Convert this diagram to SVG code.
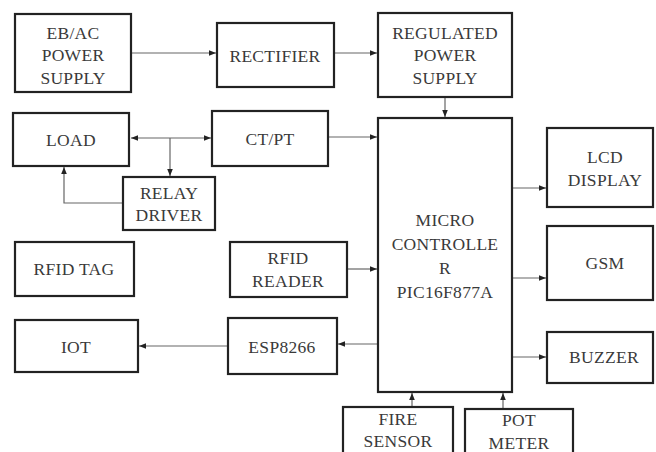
<svg xmlns="http://www.w3.org/2000/svg" width="656" height="452" viewBox="0 0 656 452">
<style>
.b{fill:#fff;stroke:#222;stroke-width:2.2}
.t{font-family:'Liberation Serif','Times New Roman',serif;font-size:17.5px;letter-spacing:0.3px;fill:#3a3a3a;text-anchor:middle}
.c{fill:none;stroke:#666;stroke-width:1.2}
</style>
<defs>
<marker id="a" viewBox="0 0 10 10" refX="10" refY="5" markerWidth="7" markerHeight="7" markerUnits="userSpaceOnUse" orient="auto-start-reverse"><path d="M0,1 L10,5 L0,9 z" fill="#222"/></marker>
</defs>
<rect width="656" height="452" fill="#fff"/>
<g id="connectors">
<line class="c" x1="131" y1="53" x2="216" y2="53" marker-end="url(#a)"/>
<line class="c" x1="335" y1="53" x2="377" y2="53" marker-end="url(#a)"/>
<line class="c" x1="445" y1="97" x2="445" y2="117" marker-end="url(#a)"/>
<line class="c" x1="131" y1="138" x2="211" y2="138" marker-start="url(#a)" marker-end="url(#a)"/>
<line class="c" x1="170" y1="138" x2="170" y2="176" marker-end="url(#a)"/>
<polyline class="c" points="123,203 64,203 64,167" marker-end="url(#a)"/>
<line class="c" x1="328" y1="137" x2="377" y2="137" marker-end="url(#a)"/>
<line class="c" x1="512" y1="188" x2="546" y2="188" marker-end="url(#a)"/>
<line class="c" x1="512" y1="278" x2="546" y2="278" marker-end="url(#a)"/>
<line class="c" x1="512" y1="357" x2="546" y2="357" marker-end="url(#a)"/>
<line class="c" x1="347" y1="269" x2="377" y2="269" marker-end="url(#a)"/>
<line class="c" x1="378" y1="344" x2="338" y2="344" marker-end="url(#a)"/>
<line class="c" x1="228" y1="346" x2="139" y2="346" marker-end="url(#a)"/>
<line class="c" x1="412" y1="407" x2="412" y2="393" marker-end="url(#a)"/>
<line class="c" x1="503" y1="409" x2="503" y2="393" marker-end="url(#a)"/>
</g>
<g id="ebac"><rect class="b" x="15" y="14" width="116" height="78"/><text class="t" x="73" y="39">EB/AC</text><text class="t" x="73" y="61">POWER</text><text class="t" x="73" y="84">SUPPLY</text></g>
<g id="rectifier"><rect class="b" x="217" y="23" width="117" height="64"/><text class="t" x="275" y="62">RECTIFIER</text></g>
<g id="regulated"><rect class="b" x="378" y="13" width="134" height="84"/><text class="t" x="445" y="39">REGULATED</text><text class="t" x="445" y="61">POWER</text><text class="t" x="445" y="84">SUPPLY</text></g>
<g id="load"><rect class="b" x="13" y="113" width="116" height="53"/><text class="t" x="71" y="146">LOAD</text></g>
<g id="ctpt"><rect class="b" x="212" y="111" width="116" height="55"/><text class="t" x="270" y="145">CT/PT</text></g>
<g id="relay"><rect class="b" x="123" y="177" width="92" height="53"/><text class="t" x="169" y="199">RELAY</text><text class="t" x="169" y="221">DRIVER</text></g>
<g id="micro"><rect class="b" x="378" y="118" width="134" height="274"/><text class="t" x="445" y="226">MICRO</text><text class="t" x="445" y="250">CONTROLLE</text><text class="t" x="445" y="274">R</text><text class="t" x="445" y="298">PIC16F877A</text></g>
<g id="lcd"><rect class="b" x="547" y="128" width="106" height="79"/><text class="t" x="605" y="163">LCD</text><text class="t" x="605" y="186">DISPLAY</text></g>
<g id="gsm"><rect class="b" x="547" y="226" width="106" height="74"/><text class="t" x="605" y="269">GSM</text></g>
<g id="buzzer"><rect class="b" x="547" y="332" width="106" height="51"/><text class="t" x="604" y="363">BUZZER</text></g>
<g id="rfidtag"><rect class="b" x="15" y="242" width="119" height="54"/><text class="t" x="74" y="275">RFID TAG</text></g>
<g id="rfidreader"><rect class="b" x="230" y="242" width="117" height="55"/><text class="t" x="288" y="264">RFID</text><text class="t" x="288" y="287">READER</text></g>
<g id="iot"><rect class="b" x="15" y="320" width="123" height="52"/><text class="t" x="76" y="353">IOT</text></g>
<g id="esp"><rect class="b" x="228" y="318" width="109" height="56"/><text class="t" x="282" y="353">ESP8266</text></g>
<g id="fire"><rect class="b" x="343" y="407" width="110" height="50"/><text class="t" x="398" y="425">FIRE</text><text class="t" x="398" y="447">SENSOR</text></g>
<g id="pot"><rect class="b" x="465" y="409" width="108" height="50"/><text class="t" x="519" y="426">POT</text><text class="t" x="519" y="449">METER</text></g>
</svg>
